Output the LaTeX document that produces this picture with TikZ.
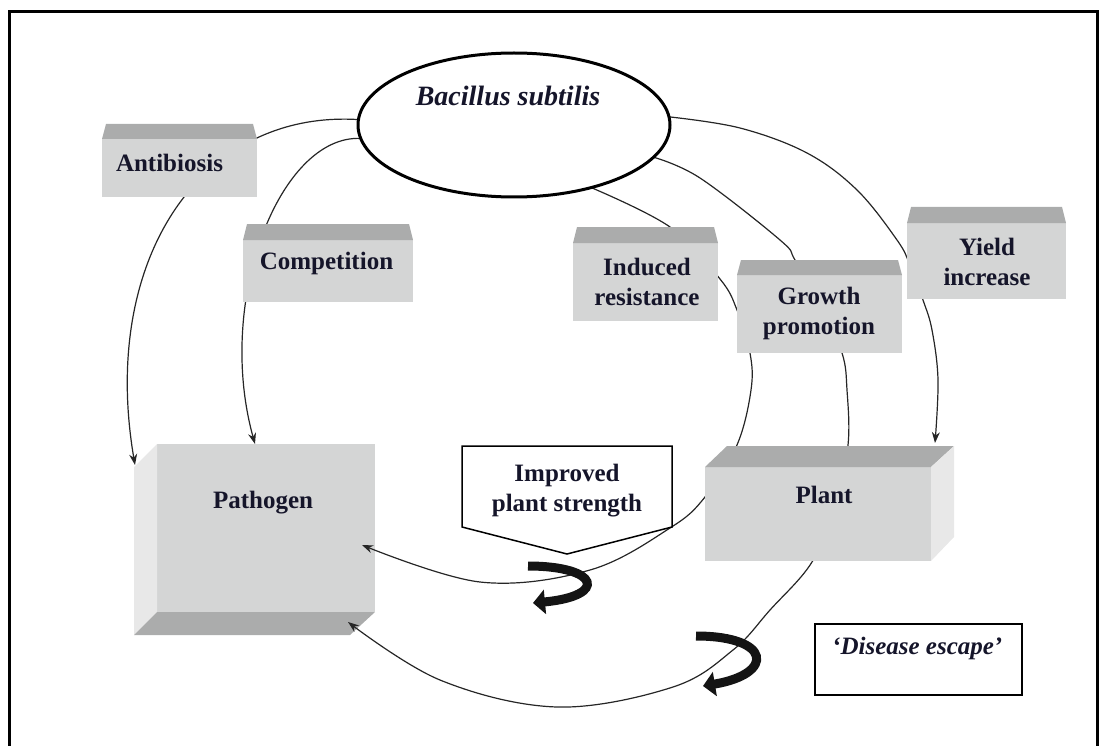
\documentclass[tikz,border=0pt]{standalone}
\usepackage{fontspec}
\setmainfont{Liberation Serif}
\usetikzlibrary{shapes.geometric,arrows.meta,calc}
\definecolor{frontgray}{HTML}{D4D5D5}
\definecolor{topgray}{HTML}{ABACAC}
\definecolor{sidegray}{HTML}{E8E8E8}
\definecolor{inkcol}{HTML}{15152A}
\tikzset{
  face/.style={fill=frontgray, draw=none, inner sep=0pt, outer sep=0pt},
  topface/.style={fill=topgray, draw=none},
  sideface/.style={fill=sidegray, draw=none},
  lbl/.style={font=\fontsize{25}{30}\selectfont\bfseries, align=center, inner sep=0pt, text=inkcol},
  conn/.style={line width=1.2pt, draw=black!85, -{Stealth[length=11pt,width=8pt]}},
  curly/.style={line width=9pt, draw=black!92, -{Triangle[length=12pt,width=24pt]}},
}
\begin{document}
\begin{tikzpicture}[x=1pt,y=-1pt]
\useasboundingbox (0,0) rectangle (1105,746);
% frame
\draw[line width=3pt] (9,760) -- (9,12) -- (1097,12) -- (1097,760);

% Pathogen box (drawn first: two arrows end on it)
\node[face, minimum width=218pt, minimum height=168pt] (path) at (266,528) {};
\fill[sideface] ($(path.north west)+(-23,23)$) -- (path.north west) -- (path.south west) -- ($(path.south west)+(-23,23)$) -- cycle;
\fill[topface] (path.south west) -- (path.south east) -- ($(path.south east)+(-25,23)$) -- ($(path.south west)+(-23,23)$) -- cycle;

% ellipse node (drawn later again on top)
\node[ellipse, minimum width=312pt, minimum height=144pt, inner sep=0pt] (bs) at (514,125) {};
% plant node geometry
\node[face, minimum width=226pt, minimum height=94pt] (plant) at (818,514) {};

% connectors
\draw[conn] (bs.178) .. controls (200,110) and (100,260) .. ([shift={(-22,21)}]path.north west);
\draw[conn] (bs.185) .. controls (280,135) and (215,300) .. ([shift={(-11,0)}]path.north);
\draw[conn] plot[smooth, tension=0.6] coordinates {(bs.-39) (670,227) (720,279) (737,310) (750,353) (751,390) (737,445) (705,497) (670,528) (590,570) (480,582) ([shift={(-13,17)}]path.east)};
\draw[conn] plot[smooth, tension=0.6] coordinates {(bs.-13) (700,178) (780,240) (795,260) (820,305) (842,353) (847,390) (848,445) (835,505) (812,562) (770,610) (733,650) (673,687) (557,707) (440,680) ([shift={(-27,10)}]path.south east)};
\draw[conn] plot[smooth, tension=0.6] coordinates {(bs.3) (740,128) (807,153) (857,190) (897,240) (910,265) (923,300) (932,330) (938,380) ([shift={(4,-24)}]plant.north east)};

% Antibiosis
\node[face, minimum width=155pt, minimum height=58pt] (anti) at (179.5,168) {};
\fill[topface] (anti.north west) -- ++(4,-15) -- ($(anti.north east)+(-4,-15)$) -- (anti.north east) -- cycle;
% Competition
\node[face, minimum width=170pt, minimum height=62pt] (comp) at (328,271) {};
\fill[topface] (comp.north west) -- ++(4,-16) -- ($(comp.north east)+(-4,-16)$) -- (comp.north east) -- cycle;
% Induced resistance
\node[face, minimum width=145pt, minimum height=78pt] (ind) at (645.5,282) {};
\fill[topface] (ind.north west) -- ++(4,-16) -- ($(ind.north east)+(-4,-16)$) -- (ind.north east) -- cycle;
% Growth promotion
\node[face, minimum width=165pt, minimum height=78pt] (grow) at (819.5,314) {};
\fill[topface] (grow.north west) -- ++(4,-15) -- ($(grow.north east)+(-4,-15)$) -- (grow.north east) -- cycle;
% Yield increase
\node[face, minimum width=159pt, minimum height=76pt] (yield) at (986.5,261) {};
\fill[topface] (yield.north west) -- ++(4,-16) -- ($(yield.north east)+(-4,-16)$) -- (yield.north east) -- cycle;
% Plant faces
\node[face, minimum width=226pt, minimum height=94pt] at (plant.center) {};
\fill[topface] (plant.north west) -- ($(plant.north west)+(22,-21)$) -- ($(plant.north east)+(23,-21)$) -- (plant.north east) -- cycle;
\fill[sideface] (plant.north east) -- ($(plant.north east)+(23,-21)$) -- ($(plant.south east)+(23,-24)$) -- (plant.south east) -- cycle;

% Improved plant strength callout
\draw[line width=1.5pt, fill=white] (462,446) -- (672,446) -- (672,527) -- (567,554) -- (462,527) -- cycle;
% Disease escape box
\node[draw, line width=1.5pt, minimum width=207pt, minimum height=71pt, inner sep=0pt] (de) at (918.5,659.5) {};

% ellipse on top
\node[ellipse, draw, line width=3pt, fill=white, minimum width=312pt, minimum height=144pt, inner sep=0pt] at (bs.center) {};

% curly arrows
\draw[curly] (528,566) .. controls (600,566) and (608,596) .. (533,603);
\draw[curly] (696,636) .. controls (772,636) and (775,674) .. (703,686);

% texts
\node[lbl, font=\fontsize{28}{32}\selectfont\bfseries\itshape] (bsT) at (508,96) {Bacillus subtilis};
\node[lbl] (antiT) at (169.5,163) {Antibiosis};
\node[lbl] (compT) at (326.5,263) {Competition};
\node[lbl] (indT) at (647,282) {Induced\\resistance};
\node[lbl] (growT) at (819,313) {Growth\\promotion};
\node[lbl] (yieldT) at (987,262) {Yield\\increase};
\node[lbl] (pathT) at (263,503) {Pathogen};
\node[lbl] (plantT) at (824,495) {Plant};
\node[lbl] (ipsT) at (567,491) {Improved\\plant strength};
\node[lbl, font=\fontsize{25}{30}\selectfont\bfseries\itshape, anchor=west] (deT) at (832,648) {‘Disease escape’};
\end{tikzpicture}
\end{document}
